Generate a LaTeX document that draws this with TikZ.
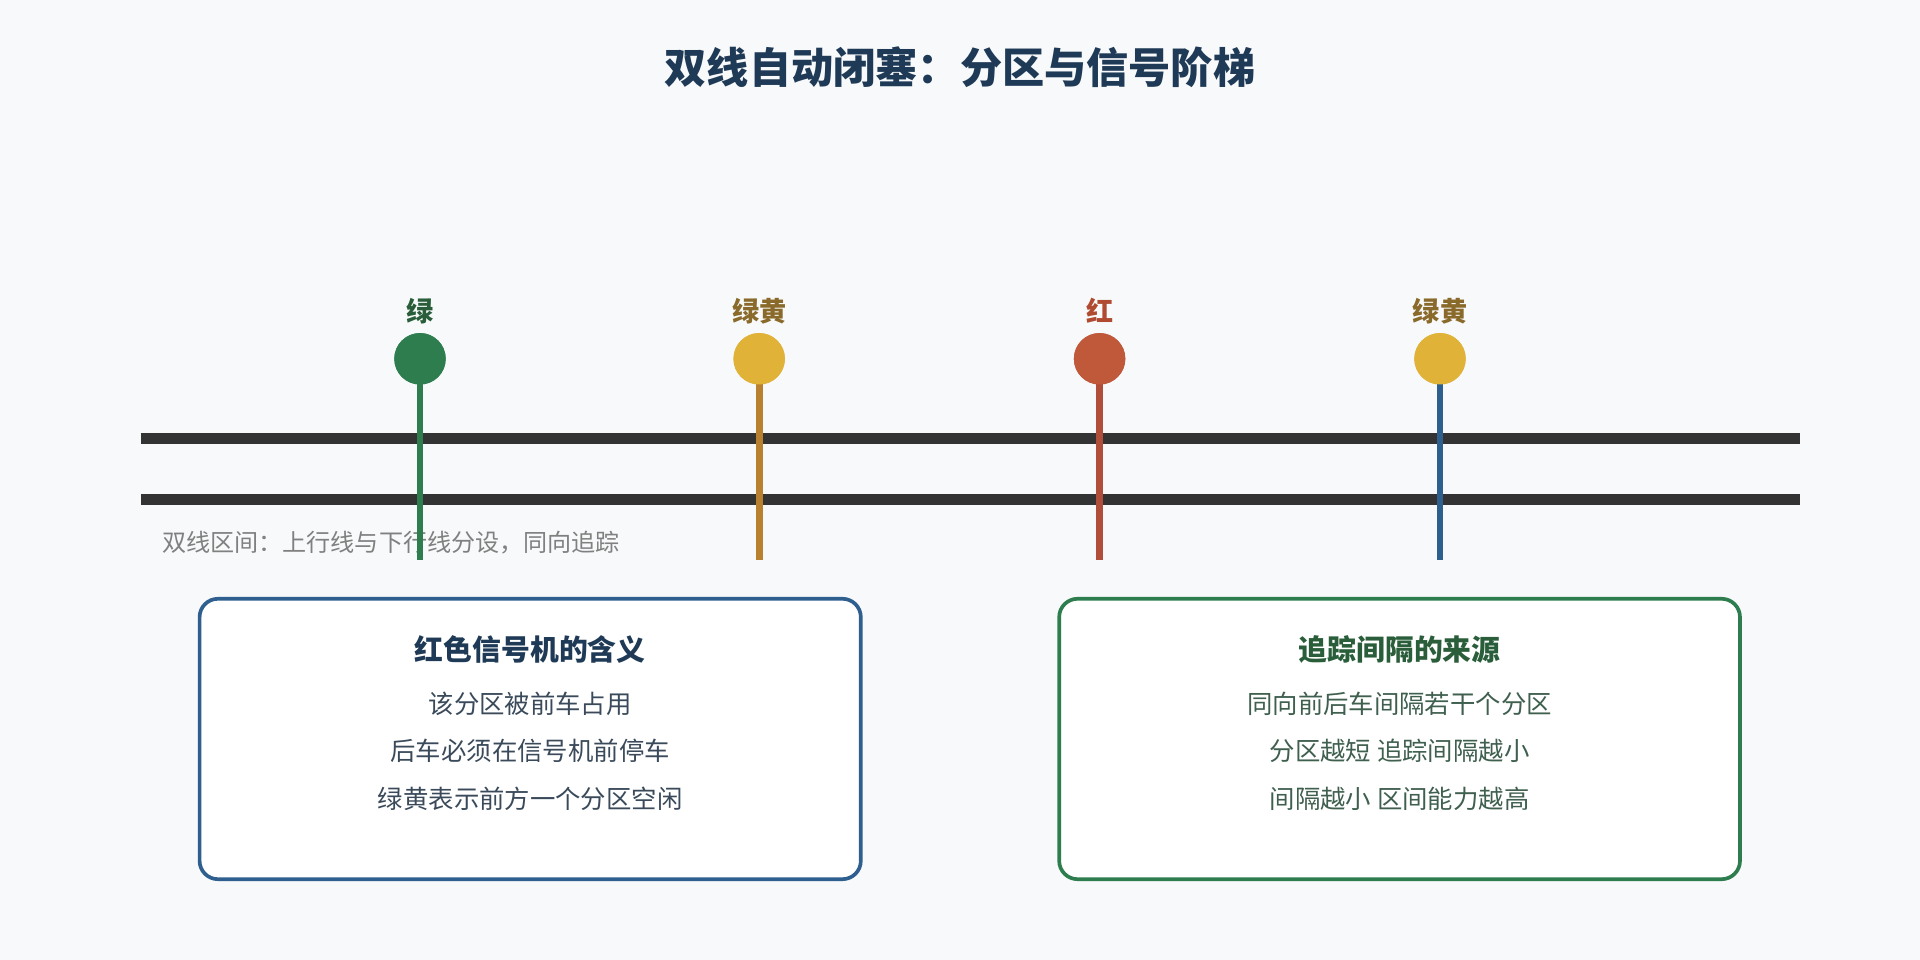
\documentclass[tikz,border=0pt]{standalone}
\usepackage{fontspec}
\setmainfont{Noto Sans CJK SC}
\usetikzlibrary{positioning}
\definecolor{bgc}{HTML}{F7F9FA}
\definecolor{navy}{HTML}{1F3A56}
\definecolor{railc}{HTML}{333333}
\definecolor{sgreen}{HTML}{2E7D4F}
\definecolor{syellow}{HTML}{E0B238}
\definecolor{sred}{HTML}{C0583A}
\definecolor{pyellow}{HTML}{B8802F}
\definecolor{pred}{HTML}{B04E3A}
\definecolor{pblue}{HTML}{2F5F8F}
\definecolor{lgreen}{HTML}{2A5E3A}
\definecolor{lbrown}{HTML}{8A6A2A}
\definecolor{lred}{HTML}{B04A30}
\definecolor{bodyc}{HTML}{3A4A5A}
\definecolor{gbody}{HTML}{3F5F4F}
\tikzset{
rail/.style={line width=0.9mm, draw=railc}, % the two tracks
pole/.style={line width=0.55mm}, % signal mast
lamp/.style={circle, minimum size=4.2mm, inner sep=0pt}, % signal head
lamplabel/.style={font=\fontsize{6.3}{7}\selectfont\bfseries},
box/.style={draw, line width=0.3mm, rounded corners=1.5mm, fill=white},
boxtitle/.style={font=\fontsize{6.7}{7.5}\selectfont\bfseries},
boxline/.style={font=\fontsize{5.9}{6.5}\selectfont},
}
\begin{document}
\begin{tikzpicture}[x=0.1mm,y=-0.1mm]
  \fill[bgc] (0,0) rectangle (1568,784);
  \useasboundingbox (0,0) rectangle (1568,784);
  \node[font=\fontsize{9.8}{11}\selectfont\bfseries, text=navy] (title) at (784,55) {双线自动闭塞：分区与信号阶梯};

  % tracks
  \coordinate (ua) at (115,358); \coordinate (ub) at (1470,358);
  \coordinate (da) at (115,408); \coordinate (db) at (1470,408);
  \draw[rail] (ua) -- (ub);
  \draw[rail] (da) -- (db);
  \node[anchor=west, text=gray, font=\fontsize{5.6}{6.5}\selectfont] (cap) at (120,443) {双线区间：上行线与下行线分设，同向追踪};

  % signals
  \foreach \x/\n/\lc/\pc/\tc/\t in {343/s1/sgreen/sgreen/lgreen/绿, 620/s2/syellow/pyellow/lbrown/绿黄, 898/s3/sred/pred/lred/红, 1176/s4/syellow/pblue/lbrown/绿黄}{
    \coordinate (\n-foot) at (\x,457);
    \node[lamp, fill=\lc] (\n) at (\x,293) {};
    \draw[pole, draw=\pc] (\n.center) -- (\n-foot);
    \node[lamp, fill=\lc] at (\n) {};
    \node[lamplabel, text=\tc] (\n-lbl) at (\x,254) {\t};
  }

  % info boxes
  \draw[box, draw=pblue] (163,489) rectangle (703,718);
  \node[boxtitle, text=navy] (b1t) at (433,530) {红色信号机的含义};
  \node[boxline, text=bodyc] (b1a) at (433,575) {该分区被前车占用};
  \node[boxline, text=bodyc] (b1b) at (433,613) {后车必须在信号机前停车};
  \node[boxline, text=bodyc] (b1c) at (433,652) {绿黄表示前方一个分区空闲};

  \draw[box, draw=sgreen] (865,489) rectangle (1421,718);
  \node[boxtitle, text=lgreen] (b2t) at (1143,530) {追踪间隔的来源};
  \node[boxline, text=gbody] (b2a) at (1143,575) {同向前后车间隔若干个分区};
  \node[boxline, text=gbody] (b2b) at (1143,613) {分区越短 追踪间隔越小};
  \node[boxline, text=gbody] (b2c) at (1143,652) {间隔越小 区间能力越高};
\end{tikzpicture}
\end{document}
